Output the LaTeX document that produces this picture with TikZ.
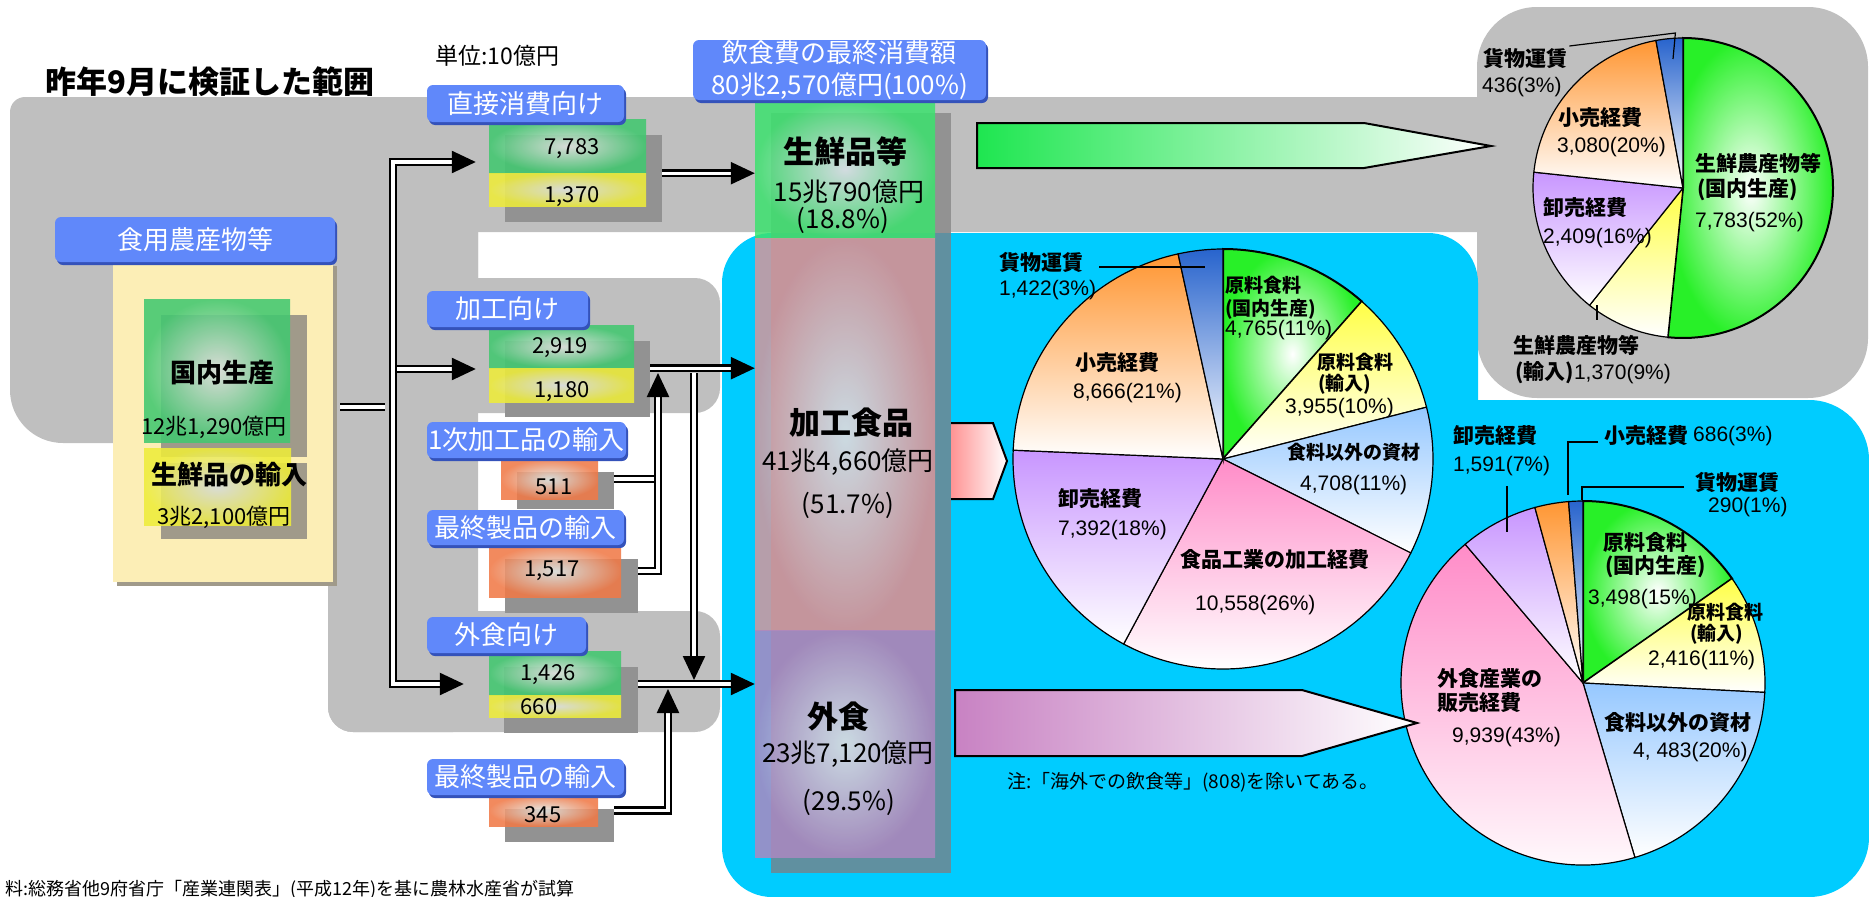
\documentclass[tikz,border=0pt]{standalone}
\usepackage{fontspec}
\setmainfont{Noto Sans CJK JP}
\newfontfamily\numfont{Liberation Sans}
\usetikzlibrary{arrows.meta,fit,shadows}

\definecolor{bggray}{RGB}{191,191,191}
\definecolor{bgblue}{RGB}{0,204,255}
\definecolor{lblblue}{RGB}{96,136,250}
\definecolor{lbldark}{RGB}{52,82,186}
\definecolor{panel}{RGB}{252,238,182}
\definecolor{panelsh}{RGB}{160,154,138}
\definecolor{boxsh}{RGB}{146,146,146}
\definecolor{colsh}{RGB}{96,144,160}
\definecolor{bxgreen}{RGB}{66,200,112}
\definecolor{bxyellow}{RGB}{238,236,58}
\definecolor{bxorange}{RGB}{240,122,72}
\definecolor{bxlight}{RGB}{226,230,226}
\definecolor{clgreen}{RGB}{60,226,110}
\definecolor{clpink}{RGB}{214,150,156}
\definecolor{clpurple}{RGB}{172,136,192}
\definecolor{cllight}{RGB}{222,232,238}
\definecolor{argreen}{RGB}{30,230,80}
\definecolor{arpink}{RGB}{255,140,140}
\definecolor{arpurple}{RGB}{200,130,195}
\definecolor{pgreen}{RGB}{40,240,40}
\definecolor{pyellow}{RGB}{255,255,70}
\definecolor{pblue}{RGB}{150,200,255}
\definecolor{ppink}{RGB}{255,140,200}
\definecolor{ppurple}{RGB}{200,150,255}
\definecolor{porange}{RGB}{255,150,50}
\definecolor{pdark}{RGB}{40,100,205}

\tikzset{
  lbl/.style={fill=lblblue, rounded corners=6pt, inner sep=0pt, text=white,
    font=\fontsize{26}{32}\selectfont,
    drop shadow={shadow xshift=2pt, shadow yshift=-3pt, fill=lbldark, opacity=1}},
  vbox/.style={inner sep=0pt, shading=radial, inner color=bxlight, opacity=0.88},
  shbox/.style={inner sep=0pt, fill=boxsh},
  colbox/.style={inner sep=0pt, shading=radial, inner color=cllight, opacity=0.85},
  dbl/.style={double=white, double distance=3.4pt, line width=2.4pt},
  dbla/.style={dbl, -{Triangle[length=24pt,width=22pt]}},
  val/.style={inner sep=0pt, font=\fontsize{22}{22}\selectfont},
  big/.style={inner sep=0pt, font=\bfseries\fontsize{31}{31}\selectfont},
  mid/.style={inner sep=0pt, font=\fontsize{26}{26}\selectfont},
  bt/.style={inner sep=0pt, anchor=west, font=\bfseries\fontsize{21}{21}\selectfont},
  bts/.style={bt, font=\bfseries\fontsize{19}{19}\selectfont},
  nt/.style={inner sep=0pt, anchor=west, font=\numfont\fontsize{21}{21}\selectfont},
  pieedge/.style={draw=black, line width=1.2pt},
  lead/.style={draw=black, line width=1.2pt},
  bigarrow/.style={draw=black, line width=2pt}
}
\newcommand{\pieslice}[5]{%
  \shadedraw[pieedge, top color=#5, bottom color=white]
    (#1) -- ++({-(#3)}:#2) arc[start angle={-(#3)}, end angle={-(#4)}, radius=#2] -- cycle;}
\newcommand{\piegreen}[4]{%
  \shadedraw[pieedge, line width=2pt, inner color=white, outer color=pgreen]
    (#1) -- ++({-(#3)}:#2) arc[start angle={-(#3)}, end angle={-(#4)}, radius=#2] -- cycle;}

\begin{document}
\begin{tikzpicture}[x=1pt,y=-1pt]
\useasboundingbox (0,0) rectangle (1869,897);
% grounds
\fill[bggray, rounded corners=15pt] (10,97) rectangle (1500,232);
\fill[bggray, rounded corners=53pt] (10,97) rectangle (478,443);
\fill[bggray, rounded corners=25pt] (328,200) rectangle (478,732);
\fill[bggray, rounded corners=25pt] (400,278) rectangle (720,413);
\fill[bggray, rounded corners=25pt] (328,611) rectangle (720,732);
\fill[bggray, rounded corners=60pt] (1477,7) rectangle (1868,398);
\fill[bgblue, rounded corners=50pt] (722,233) rectangle (1478,897);
\fill[bgblue, rounded corners=60pt] (1300,400) rectangle (1869,897);

\node[anchor=west, inner sep=0pt, font=\bfseries\fontsize{31}{31}\selectfont] (title) at (45,82) {昨年9月に検証した範囲};
\node[anchor=west, inner sep=0pt, font=\fontsize{23}{23}\selectfont] (unit) at (435,56) {単位:10億円};

% pies
\coordinate (p1) at (1223,459);
\piegreen{p1}{210}{90}{48.63}
\pieslice{p1}{210}{48.63}{14.29}{pyellow}
\pieslice{p1}{210}{14.29}{-26.58}{pblue}
\pieslice{p1}{210}{-26.58}{-118.24}{ppink}
\pieslice{p1}{210}{-118.24}{-182.41}{ppurple}
\pieslice{p1}{210}{-182.41}{-257.65}{porange}
\pieslice{p1}{210}{-257.65}{-270}{pdark}

\coordinate (p2) at (1583,683);
\piegreen{p2}{182}{90}{35.02}
\pieslice{p2}{182}{35.02}{-2.96}{pyellow}
\pieslice{p2}{182}{-2.96}{-73.43}{pblue}
\pieslice{p2}{182}{-73.43}{-229.66}{ppink}
\pieslice{p2}{182}{-229.66}{-254.67}{ppurple}
\pieslice{p2}{182}{-254.67}{-265.45}{porange}
\pieslice{p2}{182}{-265.45}{-270}{pdark}

\coordinate (p3) at (1683,188);
\piegreen{p3}{150}{90}{-95.83}
\pieslice{p3}{150}{-95.83}{-128.54}{pyellow}
\pieslice{p3}{150}{-128.54}{-186.06}{ppurple}
\pieslice{p3}{150}{-186.06}{-259.6}{porange}
\pieslice{p3}{150}{-259.6}{-270}{pdark}

% big arrows
\shadedraw[bigarrow, left color=argreen, right color=white] (977,123) -- (1364,123) -- (1491,146) -- (1364,168) -- (977,168) -- cycle;
\shadedraw[bigarrow, left color=arpink, right color=white] (947,423) -- (993,423) -- (1007,461) -- (993,499) -- (947,499) -- cycle;
\shadedraw[bigarrow, left color=arpurple, right color=white] (955,690) -- (1302,690) -- (1417,723) -- (1302,756) -- (955,756) -- cycle;

% pie 1 labels
\node[bt] (p1fr) at (999,262) {貨物運賃};
\node[nt] (p1frv) at (999,290) {1,422(3\%)};
\node[bts] (p1g1) at (1225,285) {原料食料};
\node[bts] (p1g2) at (1225,309) {(国内生産)};
\node[nt] (p1gv) at (1225,330) {4,765(11\%)};
\node[bts] (p1y1) at (1317,362) {原料食料};
\node[bts] (p1y2) at (1318,384) {(輸入)};
\node[nt] (p1yv) at (1285,408) {3,955(10\%)};
\node[bts] (p1b1) at (1287,452) {食料以外の資材};
\node[nt] (p1bv) at (1300,485) {4,708(11\%)};
\node[bt] (p1p1) at (1180,560) {食品工業の加工経費};
\node[nt] (p1pv) at (1195,605) {10,558(26\%)};
\node[bt] (p1u1) at (1058,499) {卸売経費};
\node[nt] (p1uv) at (1058,530) {7,392(18\%)};
\node[bt] (p1o1) at (1075,363) {小売経費};
\node[nt] (p1ov) at (1073,393) {8,666(21\%)};
\coordinate (p1fe) at (1205,267);
\draw[lead] ([shift={(16,5)}]p1fr.east) -- (p1fe);

% pie 2 labels
\node[bt] (p2ws) at (1453,436) {卸売経費};
\node[nt] (p2wsv) at (1453,466) {1,591(7\%)};
\node[bt] (p2rt) at (1604,436) {小売経費};
\node[nt] (p2rtv) at (1693,436) {686(3\%)};
\node[bt] (p2fr) at (1695,482) {貨物運賃};
\node[nt] (p2frv) at (1708,507) {290(1\%)};
\node[bt] (p2g1) at (1603,542) {原料食料};
\node[bt] (p2g2) at (1605,567) {(国内生産)};
\node[nt] (p2gv) at (1588,599) {3,498(15\%)};
\node[bts] (p2y1) at (1687,612) {原料食料};
\node[bts] (p2y2) at (1690,634) {(輸入)};
\node[nt] (p2yv) at (1648,660) {2,416(11\%)};
\node[bt] (p2b1) at (1604,723) {食料以外の資材};
\node[nt] (p2bv) at (1633,752) {4, 483(20\%)};
\node[bt] (p2p1) at (1437,678) {外食産業の};
\node[bt] (p2p2) at (1437,703) {販売経費};
\node[nt] (p2pv) at (1452,737) {9,939(43\%)};
\coordinate (p2wk) at (1507,532);
\coordinate (p2rk) at (1568,495);
\coordinate (p2fk) at (1582,500);
\draw[lead] (p2wsv.south -| p2wk) ++(0,10) -- (p2wk);
\draw[lead] ([shift={(-6,6)}]p2rt.west) -| (p2rk);
\draw[lead] ([shift={(-11,5)}]p2fr.west) -| (p2fk);

% pie 3 labels
\node[bt] (p3fr) at (1483,58) {貨物運賃};
\node[nt] (p3frv) at (1482,87) {436(3\%)};
\node[bt] (p3rt) at (1558,118) {小売経費};
\node[nt] (p3rtv) at (1557,147) {3,080(20\%)};
\node[bt] (p3g1) at (1695,163) {生鮮農産物等};
\node[bt] (p3g2) at (1697,190) {(国内生産)};
\node[nt] (p3gv) at (1695,222) {7,783(52\%)};
\node[bt] (p3ws) at (1543,208) {卸売経費};
\node[nt] (p3wsv) at (1543,238) {2,409(16\%)};
\node[bt] (p3i1) at (1513,345) {生鮮農産物等};
\node[bt] (p3i2) at (1515,373) {(輸入){\numfont\mdseries 1,370(9\%)}};
\coordinate (p3fk) at (1673,59);
\coordinate (p3ik) at (1597,305);
\draw[lead] ([shift={(2,-12)}]p3fr.east) -- ++(106,-13) -- (p3fk);
\draw[lead] (p3ik) -- ++(0,15);

% column of totals
\fill[boxsh] (771,113) rectangle (951,233);
\fill[colsh] (771,233) rectangle (951,873);
\node[colbox, outer color=clgreen, fit={(755,100)(935,238)}] (fresh) {};
\node[colbox, outer color=clpink, fit={(755,238)(935,630)}] (proc) {};
\node[colbox, outer color=clpurple, fit={(755,630)(935,857)}] (dine) {};
\node[lbl, align=center, minimum width=293pt, minimum height=60pt] (total) at (839.5,70) {飲食費の最終消費額\\80兆2,570億円(100\%)};
\node[big] (tfresh) at (845,152) {生鮮品等};
\node[mid] (tfreshv) at (849,192) {15兆790億円};
\node[mid] (tfreshp) at (843,220) {(18.8\%)};
\node[big] (tproc) at (851,423) {加工食品};
\node[mid] (tprocv) at (848,462) {41兆4,660億円};
\node[mid] (tprocp) at (848,505) {(51.7\%)};
\node[big] (tdine) at (838,717) {外食};
\node[mid] (tdinev) at (848,754) {23兆7,120億円};
\node[mid] (tdinep) at (849,802) {(29.5\%)};

% supply panel
\fill[panelsh] (117,266) rectangle (337,586);
\node[fill=panel, inner sep=0pt, fit={(113,262)(333,582)}] (food) {};
\fill[panelsh] (161,315) rectangle (307,457);
\fill[panelsh] (161,463) rectangle (307,539);
\node[vbox, outer color=bxgreen, fit={(144,299)(290,442)}] (dom) {};
\node[vbox, outer color=bxyellow, fit={(144,448)(291,525)}] (fimp) {};
\node[lbl, minimum width=280pt, minimum height=45pt] (lblfood) at (195,239.5) {食用農産物等};
\node[big, font=\bfseries\fontsize{26}{26}\selectfont] (tdom) at (222,373) {国内生産};
\node[val] (tdomv) at (214,427) {12兆1,290億円};
\node[big, font=\bfseries\fontsize{26}{26}\selectfont] (tfimp) at (229,475) {生鮮品の輸入};
\node[val] (tfimpv) at (224,517) {3兆2,100億円};

% value boxes
\node[shbox, fit={(505,135)(662,222)}] (dirsh) {};
\node[vbox, outer color=bxgreen, fit={(489,119)(646,173)}] (dirg) {};
\node[vbox, outer color=bxyellow, fit={(489,173)(646,206)}] (diry) {};
\node[shbox, fit={(505,341)(650,417)}] (procsh) {};
\node[vbox, outer color=bxgreen, fit={(489,325)(634,368)}] (procg) {};
\node[vbox, outer color=bxyellow, fit={(489,368)(634,402)}] (procy) {};
\node[shbox, fit={(517,472)(614,509)}] (imp1sh) {};
\node[vbox, outer color=bxorange, fit={(501,459)(598,499)}] (imp1) {};
\node[shbox, fit={(505,559)(638,613)}] (imp2sh) {};
\node[vbox, outer color=bxorange, fit={(489,545)(621,597)}] (imp2) {};
\node[shbox, fit={(504,667)(638,733)}] (dinesh) {};
\node[vbox, outer color=bxgreen, fit={(489,651)(621,695)}] (dineg) {};
\node[vbox, outer color=bxyellow, fit={(489,695)(621,717)}] (diney) {};
\node[shbox, fit={(505,809)(614,842)}] (imp3sh) {};
\node[vbox, outer color=bxorange, fit={(489,795)(598,826)}] (imp3) {};

\node[lbl, minimum width=197pt, minimum height=37pt] (lbldir) at (525.5,103.5) {直接消費向け};
\node[lbl, minimum width=161pt, minimum height=36pt] (lblproc) at (507.5,309) {加工向け};
\node[lbl, minimum width=199pt, minimum height=36pt] (lblimp1) at (526.5,440) {1次加工品の輸入};
\node[lbl, minimum width=197pt, minimum height=35pt] (lblimp2) at (525.5,527.5) {最終製品の輸入};
\node[lbl, minimum width=159pt, minimum height=36pt] (lbldine) at (506.5,635) {外食向け};
\node[lbl, minimum width=197pt, minimum height=36pt] (lblimp3) at (525.5,777) {最終製品の輸入};

\node[val] (t7783) at (572,149) {7,783};
\node[val] (t1370) at (572,197) {1,370};
\node[val] (t2919) at (560,348) {2,919};
\node[val] (t1180) at (562,392) {1,180};
\node[val] (t511) at (554,487) {511};
\node[val] (t1517) at (552,571) {1,517};
\node[val] (t1426) at (548,675) {1,426};
\node[val] (t660) at (539,707) {660};
\node[val] (t345) at (543,815) {345};

% flows
\coordinate (jt) at (393,162);
\coordinate (jm) at (393,407);
\coordinate (j2) at (397,369);
\coordinate (jh) at (393,600);
\coordinate (jb) at (393,684);
\draw[dbla, shorten >=13pt] (jb) -- (jt) -- (jt -| dirg.west);
\draw[dbla, shorten >=25pt] (jh) -- (jb) -- (jb -| dineg.west);
\draw[dbla, shorten >=13pt] (j2) -- (j2 -| procg.west);
\draw[dbl, shorten <=7pt, shorten >=8pt] (food.east |- jm) -- (jm);

\draw[dbla, shorten <=16pt] (dirg.south east) -- (dirg.south east -| fresh.west);
\draw[dbla, shorten <=16pt] (procg.south east) -- (procg.south east -| proc.west);
\draw[dbla] (jb -| dinesh.east) -- (jb -| dine.west);

\coordinate (ut) at (658,373);
\coordinate (dt1) at (694,373);
\coordinate (dt2) at (694,680);
\coordinate (qt) at (668,689);
\draw[dbl, shorten <=16pt] (imp1.east) -- (imp1.east -| ut);
\draw[dbla, shorten <=17pt] (imp2.east) -| (ut);
\draw[dbla] (dt1) -- (dt2);
\draw[dbla, shorten <=16pt] (imp3.east) -| (qt);

% notes
\node[anchor=west, inner sep=0pt, font=\fontsize{19}{19}\selectfont] (note) at (1007,782) {注:「海外での飲食等」(808)を除いてある。};
\node[anchor=east, inner sep=0pt, font=\fontsize{18}{18}\selectfont] (source) at (575,890) {料:総務省他9府省庁「産業連関表」(平成12年)を基に農林水産省が試算};
\end{tikzpicture}
\end{document}
